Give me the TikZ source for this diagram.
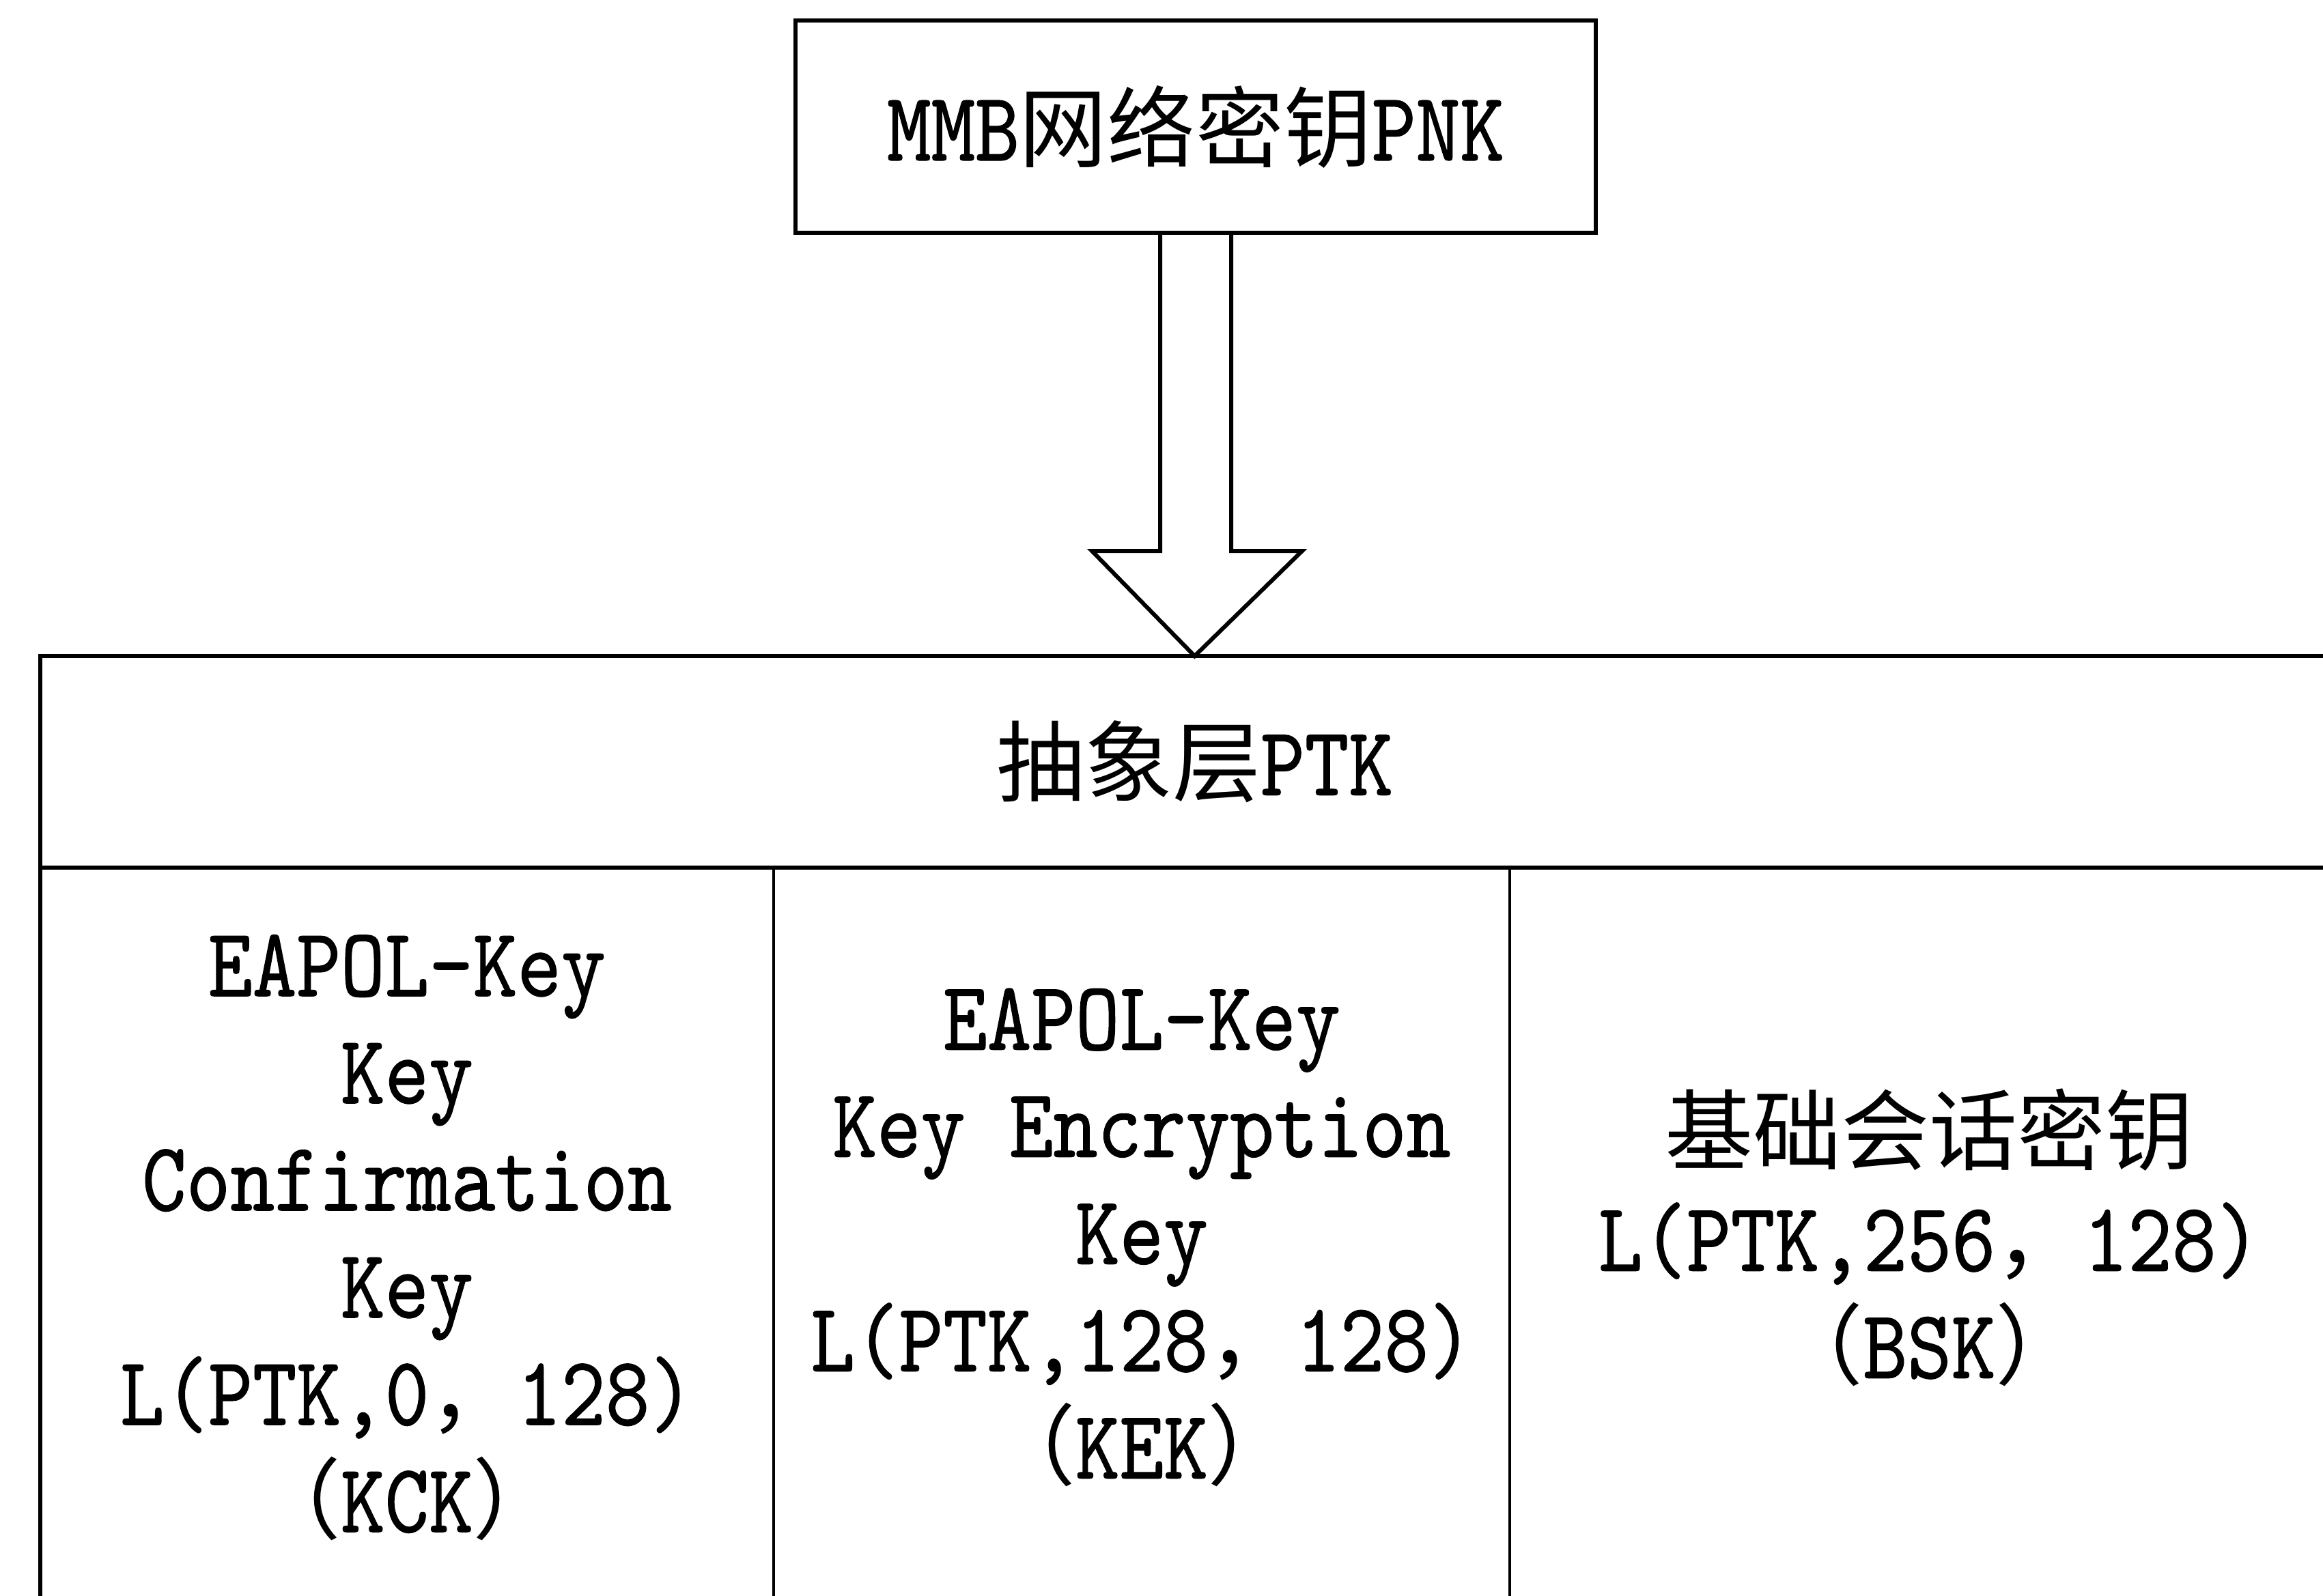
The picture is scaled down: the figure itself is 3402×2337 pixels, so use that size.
\documentclass[tikz,border=0pt]{standalone}
\usepackage{fontspec}
\setmainfont{lmmono10-regular.otf}[FakeStretch=0.855, FakeBold=0.8]
\newfontfamily\cjk{Noto Sans CJK SC}[Scale=0.896]
\usetikzlibrary{calc}
\newcommand\zh[1]{{\cjk #1}}
\tikzset{
  frame/.style={draw=black, line width=1.5pt},
  lbl/.style={align=center, font={\fontsize{36pt}{39.25pt}\selectfont}, inner sep=0pt, outer sep=0pt},
  cell/.style={lbl, draw=black, line width=1.1pt, minimum height=1084*0.25pt, anchor=north west},
}
\begin{document}
\begin{tikzpicture}[x=0.25pt, y=-0.25pt, line join=miter]
  \useasboundingbox (0,0) rectangle (3402,2337);
  \fill[white] (0,0) rectangle (3402,2337);
  \clip (0,0) rectangle (3402,2337);

  % top box
  \node[frame, lbl, minimum width=1172*0.25pt, minimum height=311*0.25pt] (pnk) at (1751,185.5)
    {MMB\zh{网络密钥}PNK};

  % header of abstraction layer
  \node[frame, lbl, minimum width=3381*0.25pt, minimum height=310*0.25pt] (ptk) at (1749.5,1116)
    {\zh{抽象层}PTK};

  % columns
  \node[cell, minimum width=1074*0.25pt] (kck) at (ptk.south west)
    {EAPOL-Key\\Key\\Confirmation\\Key\\L(PTK,0\zh{，}128)\\\zh{（}KCK\zh{）}};
  \node[cell, minimum width=1078*0.25pt] (kek) at (kck.north east)
    {EAPOL-Key\\Key Encryption\\Key\\L(PTK,128\zh{，}128)\\\zh{（}KEK\zh{）}};
  \node[cell, minimum width=1229*0.25pt] (bsk) at (kek.north east)
    {\zh{基础会话密钥}\\L(PTK,256\zh{，}128)\\\zh{（}BSK\zh{）}};

  % outer frame
  \draw[frame] (ptk.north west) rectangle (bsk.south east);

  % hollow block arrow
  \draw[frame]
    ($(pnk.south)+(-52,0)$) -- ($(pnk.south)+(-52,466)$) -- ($(pnk.south)+(-152,466)$)
    -- (ptk.north)
    -- ($(pnk.south)+(156,466)$) -- ($(pnk.south)+(52,466)$) -- ($(pnk.south)+(52,0)$);
\end{tikzpicture}
\end{document}
